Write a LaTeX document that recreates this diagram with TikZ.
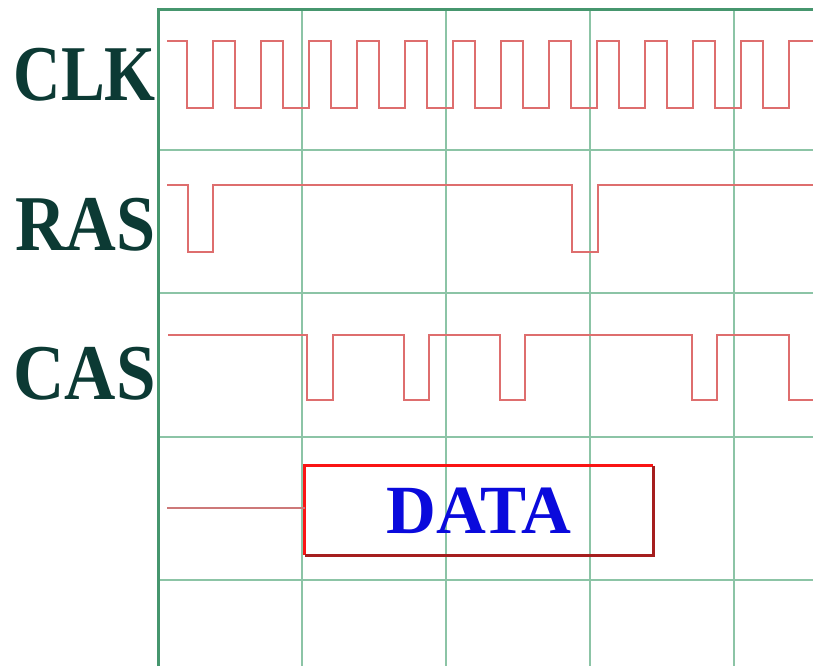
\documentclass[tikz,border=0pt]{standalone}
\usepackage{fontspec}
\setmainfont{Liberation Serif}
\definecolor{gridc}{RGB}{140,196,166}
\definecolor{borderc}{RGB}{70,150,110}
\definecolor{wavec}{RGB}{222,110,110}
\definecolor{labc}{RGB}{12,58,52}
\definecolor{boxlight}{RGB}{250,20,20}
\definecolor{boxdark}{RGB}{165,30,30}
\definecolor{datablue}{RGB}{10,10,220}
\definecolor{datalinec}{RGB}{205,120,120}
\tikzset{
  gridline/.style={draw=gridc, line width=2pt},
  borderline/.style={draw=borderc, line width=3pt},
  wave/.style={draw=wavec, line width=1.8pt, line join=miter},
  siglabel/.style={inner sep=0pt, anchor=base east, text=labc, font=\bfseries\fontsize{79}{80}\selectfont},
}
\begin{document}
\begin{tikzpicture}[x=1pt,y=-1pt]
\useasboundingbox (0,0) rectangle (813,666);
\fill[white] (0,0) rectangle (813,666);
% grid
\foreach \gx in {302,446,590,734} {\draw[gridline] (\gx,10) -- (\gx,666);}
\foreach \gy in {150,293,437,580} {\draw[gridline] (158,\gy) -- (813,\gy);}
\draw[borderline] (158,666) -- (158,10) -- (813,10);
% labels
\node[siglabel] (clk) at (156,101) {\scalebox{0.83}[1]{CLK}};
\node[siglabel] (ras) at (156,250) {\scalebox{0.89}[1]{RAS}};
\node[siglabel] (cas) at (156,399) {\scalebox{0.9}[1]{CAS}};
% CLK
\draw[wave] (167,41) foreach \k in {0,...,12} {
  -- ({187+48*\k},41) -- ({187+48*\k},108) -- ({213+48*\k},108) -- ({213+48*\k},41)
} -- (813,41);
% RAS
\draw[wave] (167,185) -- (188,185) -- (188,252) -- (213,252) -- (213,185)
  -- (572,185) -- (572,252) -- (598,252) -- (598,185) -- (813,185);
% CAS
\draw[wave] (168,335) -- (307,335) -- (307,400) -- (333,400) -- (333,335)
  -- (404,335) -- (404,400) -- (429,400) -- (429,335)
  -- (500,335) -- (500,400) -- (525,400) -- (525,335)
  -- (692,335) -- (692,400) -- (717,400) -- (717,335)
  -- (789,335) -- (789,400) -- (813,400);
% DATA
\node[minimum width=348pt, minimum height=89pt, inner sep=0pt, text=datablue,
  font=\bfseries\fontsize{69}{70}\selectfont] (data) at (479,510.5) {DATA};
\draw[boxlight, line width=3pt] (data.south west) -- (data.north west) -- (data.north east);
\draw[boxdark, line width=3pt] (data.north east) -- (data.south east) -- (data.south west);
\coordinate (dstart) at (167,508);
\draw[datalinec, line width=2pt] (dstart) -- (dstart -| data.west);
\end{tikzpicture}
\end{document}
